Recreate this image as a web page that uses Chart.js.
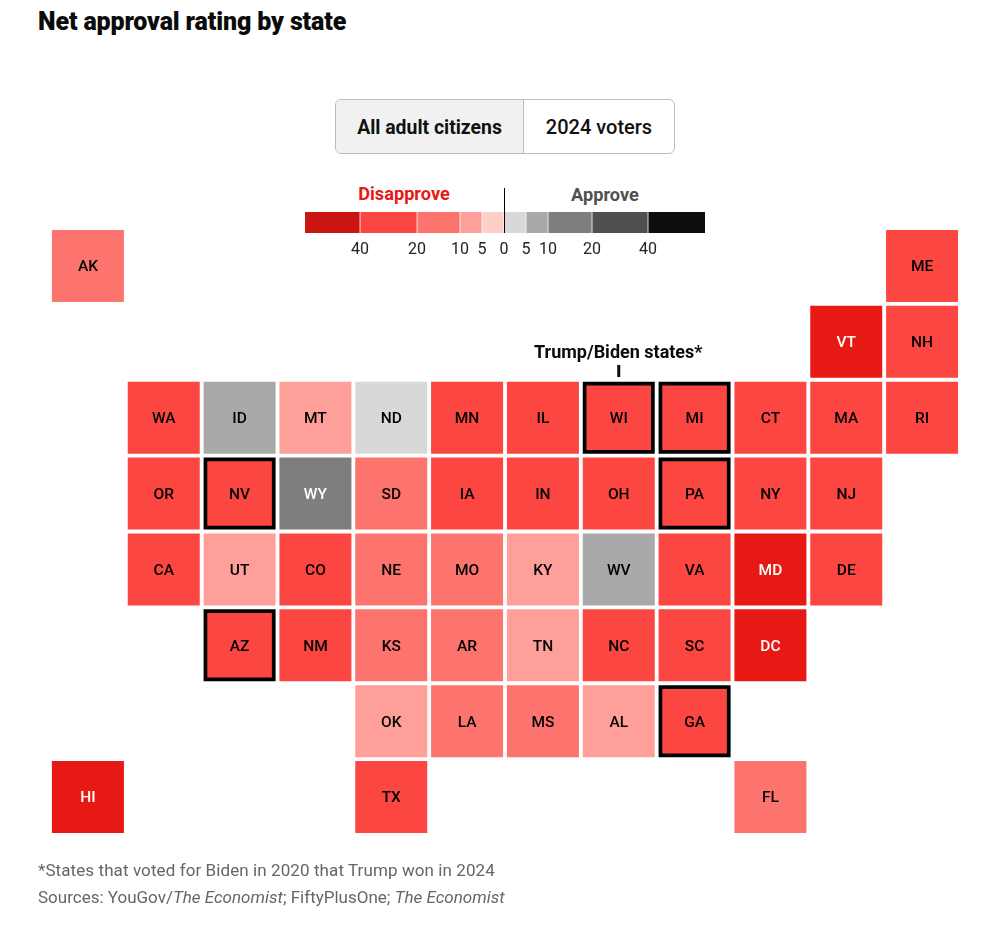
<!DOCTYPE html>
<html><head><meta charset="utf-8">
<script src="https://cdn.jsdelivr.net/npm/chart.js@4"></script>
<style>
html,body{margin:0;padding:0;background:#fff;overflow:hidden}
#page{position:relative;width:998px;height:948px;font-family:Roboto,sans-serif}
#page canvas{position:absolute}
.t{position:absolute;white-space:nowrap}
#title{left:38px;top:6px;font-size:25px;line-height:32px;font-weight:900;color:#0b0b0b;letter-spacing:-.14px}
#toggle{position:absolute;left:335px;top:99px;width:338px;height:53px;border:1px solid #bdbdbd;border-radius:6px;display:flex;overflow:hidden;font-size:20px;color:#111}
#toggle div{display:flex;align-items:center;justify-content:center}
#optA{width:188px;background:#f1f1f1;border-right:1px solid #bdbdbd;font-weight:700;box-sizing:border-box;font-size:19.4px;padding-top:1px}
#optB{flex:1;font-weight:500}
#note{left:38px;top:857px;font-size:17px;line-height:27px;color:#666}
#note span{letter-spacing:.09px}
#dis{left:304px;width:200px;text-align:center;top:183px;font-size:18.2px;line-height:22px;font-weight:700;color:#e61914}
#app{left:505px;width:200px;text-align:center;top:184px;font-size:18.2px;line-height:22px;font-weight:700;color:#505050}
</style></head>
<body><div id="page">
<div class="t" id="title">Net approval rating by state</div>
<div id="toggle"><div id="optA">All adult citizens</div><div id="optB">2024 voters</div></div>
<div class="t" id="dis">Disapprove</div><div class="t" id="app">Approve</div>
<canvas id="map" width="998" height="948" style="left:0;top:0"></canvas>
<canvas id="legend" width="400" height="84" style="left:305px;top:180px"></canvas>
<div class="t" id="note"><span>*States that voted for Biden in 2020 that Trump won in 2024</span><br>Sources: YouGov/<i>The Economist</i>; FiftyPlusOne; <i>The Economist</i></div>
</div>
<script>
const states =      ['AK','ME','VT','NH','WA','ID','MT','ND','MN','IL','WI','MI','CT','MA','RI','OR','NV','WY','SD','IA','IN','OH','PA','NY','NJ','CA','UT','CO','NE','MO','KY','WV','VA','MD','DE','AZ','NM','KS','AR','TN','NC','SC','DC','OK','LA','MS','AL','GA','HI','TX','FL'];
const gridColumn =  [0,11,10,11,1,2,3,4,5,6,7,8,9,10,11,1,2,3,4,5,6,7,8,9,10,1,2,3,4,5,6,7,8,9,10,2,3,4,5,6,7,8,9,4,5,6,7,8,0,4,9];
const gridRow =     [0,0,1,1,2,2,2,2,2,2,2,2,2,2,2,3,3,3,3,3,3,3,3,3,3,4,4,4,4,4,4,4,4,4,4,5,5,5,5,5,5,5,5,6,6,6,6,6,7,7,7];
const netApproval = [-15,-30,-42,-28,-28,7,-8,3,-27,-26,-22,-21,-30,-35,-31,-29,-21,14,-13,-21,-21,-22,-22,-27,-25,-32,-8,-25,-14,-16,-7,8,-27,-44,-28,-24,-26,-15,-14,-8,-21,-21,-70,-7,-14,-15,-8,-22,-43,-23,-15];
const swingStates = ['WI','MI','NV','PA','AZ','GA'];
const swingLabel = 'Trump/Biden states*';

const legendTicks =  ['40','20','10','5','0','5','10','20','40'];
const legendWidths = [55,57,43,22,22,22,22,44,56,57];
const legendColors = ['#cb1512','#fb4641','#fd736e','#fe9f9a','#fecec9','#d8d8d8','#a9a9a9','#7e7e7e','#505050','#0d0d0d'];

function tileColor(v){
  if(v<=-40) return '#e61914';
  if(v<=-20) return '#fb4641';
  if(v<=-10) return '#fd736e';
  if(v<=-5)  return '#fe9f9a';
  if(v<0)    return '#fecec9';
  if(v<5)    return '#d8d8d8';
  if(v<10)   return '#a9a9a9';
  if(v<20)   return '#7e7e7e';
  if(v<40)   return '#505050';
  return '#0d0d0d';
}
const isSwing = s => swingStates.includes(s);
const TILE = 72, STROKE = 3.7;

const tileLabels = {
  id:'tileLabels',
  afterDatasetsDraw(chart){
    const {ctx} = chart, pts = chart.getDatasetMeta(0).data;
    ctx.save();
    ctx.textAlign='center'; ctx.textBaseline='middle';
    ctx.font='500 15.5px Roboto';
    pts.forEach((p,i)=>{
      const v = netApproval[i];
      ctx.fillStyle = (v<=-40 || (v>=10)) ? '#fff' : '#000';
      ctx.fillText(states[i],p.x,p.y+1.5);
    });
    // annotation above the swing-state block
    const wi = pts[states.indexOf('WI')];
    ctx.fillStyle='#0b0b0b';
    ctx.font='700 18px Roboto';
    ctx.fillText(swingLabel,wi.x-0.5,353);
    ctx.fillRect(wi.x-1.5,365,3,12);
    ctx.restore();
  }
};

new Chart(document.getElementById('map'),{
  type:'scatter',
  data:{datasets:[{
    data:states.map((s,i)=>({x:gridColumn[i],y:gridRow[i]})),
    pointStyle:'rect',
    pointBackgroundColor:netApproval.map(tileColor),
    pointBorderColor:states.map(s=>isSwing(s)?'#000':'rgba(0,0,0,0)'),
    pointBorderWidth:states.map(s=>isSwing(s)?STROKE:0),
    pointRadius:states.map(s=>(isSwing(s)?TILE-STROKE:TILE)/Math.SQRT2),
    clip:false
  }]},
  options:{
    responsive:false,animation:false,events:[],
    layout:{autoPadding:false,padding:{left:50,right:38,top:228,bottom:113}},
    plugins:{legend:{display:false},tooltip:{enabled:false},title:{display:false}},
    scales:{
      x:{type:'linear',min:-0.5,max:11.5,display:false},
      y:{type:'linear',min:-0.5,max:7.5,reverse:true,display:false}
    }
  },
  plugins:[tileLabels]
});

// colour key: stacked bands; tick labels sit on the band edges
const edges = legendWidths.slice(0,-1).map((w,i)=>legendWidths.slice(0,i+1).reduce((a,b)=>a+b,0));
const total = legendWidths.reduce((a,b)=>a+b,0);
const zeroLine = {
  id:'zeroLine',
  afterDatasetsDraw(chart){
    const x = chart.scales.x.getPixelForValue(edges[4]);
    const ctx = chart.ctx;
    ctx.save(); ctx.fillStyle='#000';
    ctx.fillRect(Math.round(x),8,1,chart.chartArea.bottom-8);
    ctx.restore();
  }
};
new Chart(document.getElementById('legend'),{
  type:'bar',
  data:{labels:['key'],datasets:legendWidths.map((w,i)=>({
    data:[w],backgroundColor:legendColors[i],borderColor:'#fff',
    borderWidth:{left:i?0.7:0,right:i<legendWidths.length-1?0.7:0,top:0,bottom:0},
    borderSkipped:false,barPercentage:1,categoryPercentage:1
  }))},
  options:{
    indexAxis:'y',responsive:false,animation:false,events:[],
    layout:{autoPadding:false,padding:{top:32,left:0,right:0,bottom:0}},
    plugins:{legend:{display:false},tooltip:{enabled:false}},
    scales:{
      x:{type:'linear',stacked:true,min:0,max:total,
        grid:{display:false,drawTicks:false},border:{display:false},
        afterBuildTicks(a){a.ticks=edges.map(v=>({value:v}));},
        afterFit(a){a.height=31;},
        ticks:{autoSkip:false,maxRotation:0,minRotation:0,padding:7,color:'#222',
          font:{family:'Roboto',size:16},
          callback(v,i){return legendTicks[i];}}
      },
      y:{stacked:true,display:false}
    }
  },
  plugins:[zeroLine]
});
</script></body></html>
